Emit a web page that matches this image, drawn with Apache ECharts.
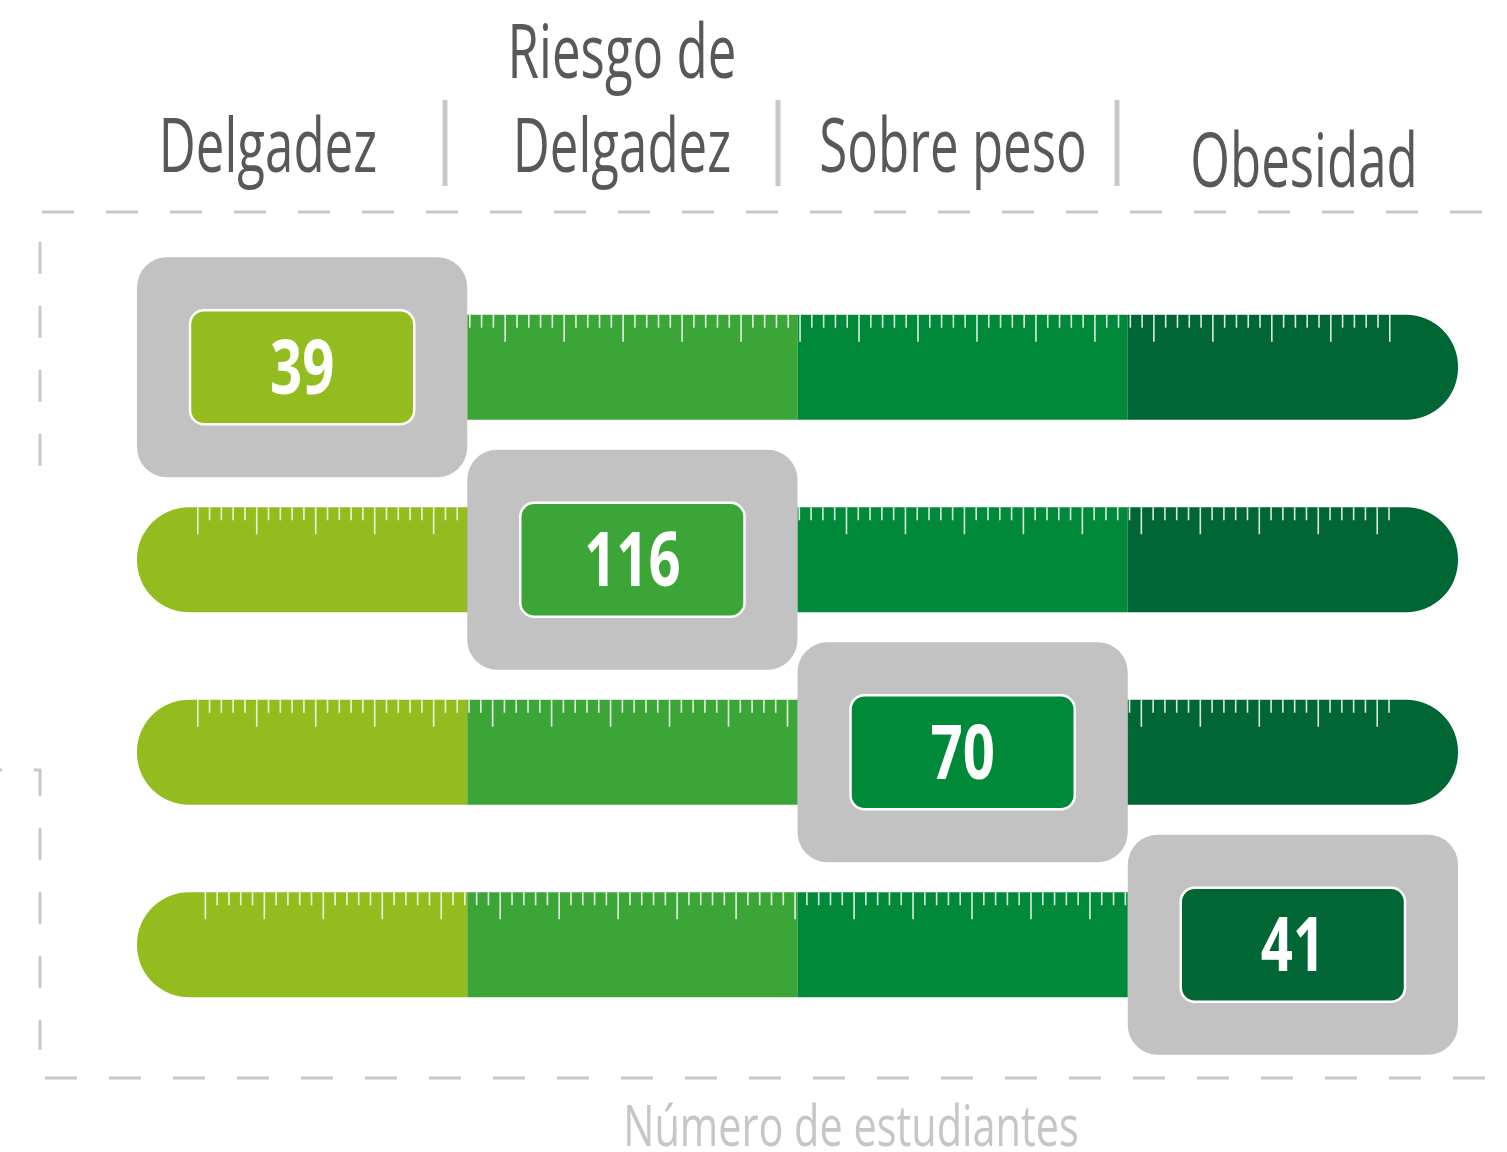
<!DOCTYPE html>
<html>
<head>
<meta charset="utf-8">
<script src="https://cdn.jsdelivr.net/npm/echarts@6/dist/echarts.min.js"></script>
<style>html,body{margin:0;padding:0;background:#fff}#main{width:1507px;height:1152px}</style>
</head>
<body>
<div id="main"></div>
<script>
// datos
var categories = ['Delgadez', 'Riesgo de\nDelgadez', 'Sobre peso', 'Obesidad'];
var students = [39, 116, 70, 41];          // valor resaltado en cada fila
var segmentSize = [1, 1, 1, 1];           // cada tramo de la regla ocupa una unidad
var axisName = 'Número de estudiantes';

// estilo
var colors = ['#93bd1f', '#3ba637', '#008938', '#006734'];
var grey = '#c2c2c2';
var dashGrey = '#c8c8c8';
var textGrey = '#58585a';
var barH = 105;
var rulerStart = [0.222, 0.184, 0.184, 0.207];
var rulerEnd = 3.80;
var rulerStep = 1 / 28;
var headerPos = [[268, 151], [622, 151], [953, 151], [1304, 166]];
var headerLine = 94;

var chart = echarts.init(document.getElementById('main'));

var barSeries = colors.map(function (c, j) {
    var r = j == 0 ? [52, 0, 0, 52] : (j == colors.length - 1 ? [0, 52, 52, 0] : 0);
    return {
        type: 'bar',
        stack: 'fila',
        barWidth: barH,
        z: 2,
        silent: true,
        itemStyle: {color: c, borderRadius: r},
        data: categories.map(function () { return segmentSize[j]; })
    };
});

function renderRuler(params, api) {
    var row = api.value(1);
    var top = api.coord([0, row])[1] - barH / 2;
    var s = rulerStart[params.dataIndex];
    var children = [];
    for (var k = 0; s + k * rulerStep <= rulerEnd; k++) {
        var x = api.coord([s + k * rulerStep, row])[0];
        var len = k % 5 == 0 ? 27 : 13;
        children.push({
            type: 'line',
            shape: {x1: x, y1: top, x2: x, y2: top + len},
            style: {stroke: 'rgba(255,255,255,0.85)', lineWidth: 1.6}
        });
    }
    return {type: 'group', children: children};
}

function renderBox(params, api) {
    var seg = api.value(0), row = api.value(1);
    var p0 = api.coord([seg, row]);
    var p1 = api.coord([seg + 1, row]);
    var cy = p0[1], w = p1[0] - p0[0];
    return {
        type: 'group',
        children: [
            {type: 'rect', shape: {x: p0[0], y: cy - 110, width: w, height: 220, r: 30}, style: {fill: grey}},
            {type: 'rect', shape: {x: p0[0] + 53, y: cy - 57, width: w - 106, height: 114, r: 14},
                style: {fill: colors[seg], stroke: '#fff', lineWidth: 2.5}},
            {type: 'text', x: (p0[0] + p1[0]) / 2, y: cy + 5, scaleX: 0.74,
                style: {text: String(api.value(2)), x: 0, y: 0, align: 'center', verticalAlign: 'middle',
                    fill: '#fff', font: 'bold 76px "Open Sans"'}}
        ]
    };
}

// cabeceras, separadores y marco punteado
var graphics = [];
categories.forEach(function (name, i) {
    var lines = name.split('\n');
    lines.forEach(function (t, k) {
        graphics.push({
            type: 'text', x: headerPos[i][0], y: headerPos[i][1] - (lines.length - 1 - k) * headerLine,
            scaleX: 0.68,
            style: {text: t, x: 0, y: 0, align: 'center', verticalAlign: 'middle', fill: textGrey, font: '75px "Open Sans"'}
        });
    });
});
[445, 778, 1117].forEach(function (x) {
    graphics.push({type: 'line', shape: {x1: x, y1: 100, x2: x, y2: 186}, style: {stroke: dashGrey, lineWidth: 5}});
});
var dash = {stroke: dashGrey, lineWidth: 3, lineDash: [32, 32]};
graphics.push({type: 'line', shape: {x1: 42, y1: 212, x2: 1482, y2: 212}, style: dash});
graphics.push({type: 'line', shape: {x1: 45, y1: 1078, x2: 1485, y2: 1078}, style: dash});
graphics.push({type: 'line', shape: {x1: 40, y1: 242, x2: 40, y2: 466}, style: dash});
graphics.push({type: 'polyline', shape: {points: [[0, 770], [40, 770], [40, 1050]]},
    style: {stroke: dashGrey, lineWidth: 3, lineDash: [32, 32], lineDashOffset: 30, fill: null}});
graphics.push({
    type: 'text', x: 851, y: 1130, scaleX: 0.74,
    style: {text: axisName, x: 0, y: 0, align: 'center', verticalAlign: 'middle', fill: '#c6c6c6', font: '56px "Open Sans"'}
});

var option = {
    animation: false,
    grid: {left: 137, right: 49, top: 271, bottom: 111},
    xAxis: {type: 'value', min: 0, max: 4, show: false},
    yAxis: {type: 'category', data: categories, inverse: true, show: false},
    graphic: graphics,
    series: barSeries.concat([
        {
            type: 'custom',
            z: 3,
            silent: true,
            renderItem: renderRuler,
            encode: {x: 0, y: 1},
            data: categories.map(function (c, i) { return [0, i]; })
        },
        {
            type: 'custom',
            z: 4,
            silent: true,
            renderItem: renderBox,
            encode: {x: 0, y: 1},
            data: students.map(function (v, i) { return [i, i, v]; })
        }
    ])
};
chart.setOption(option);
</script>
</body>
</html>
